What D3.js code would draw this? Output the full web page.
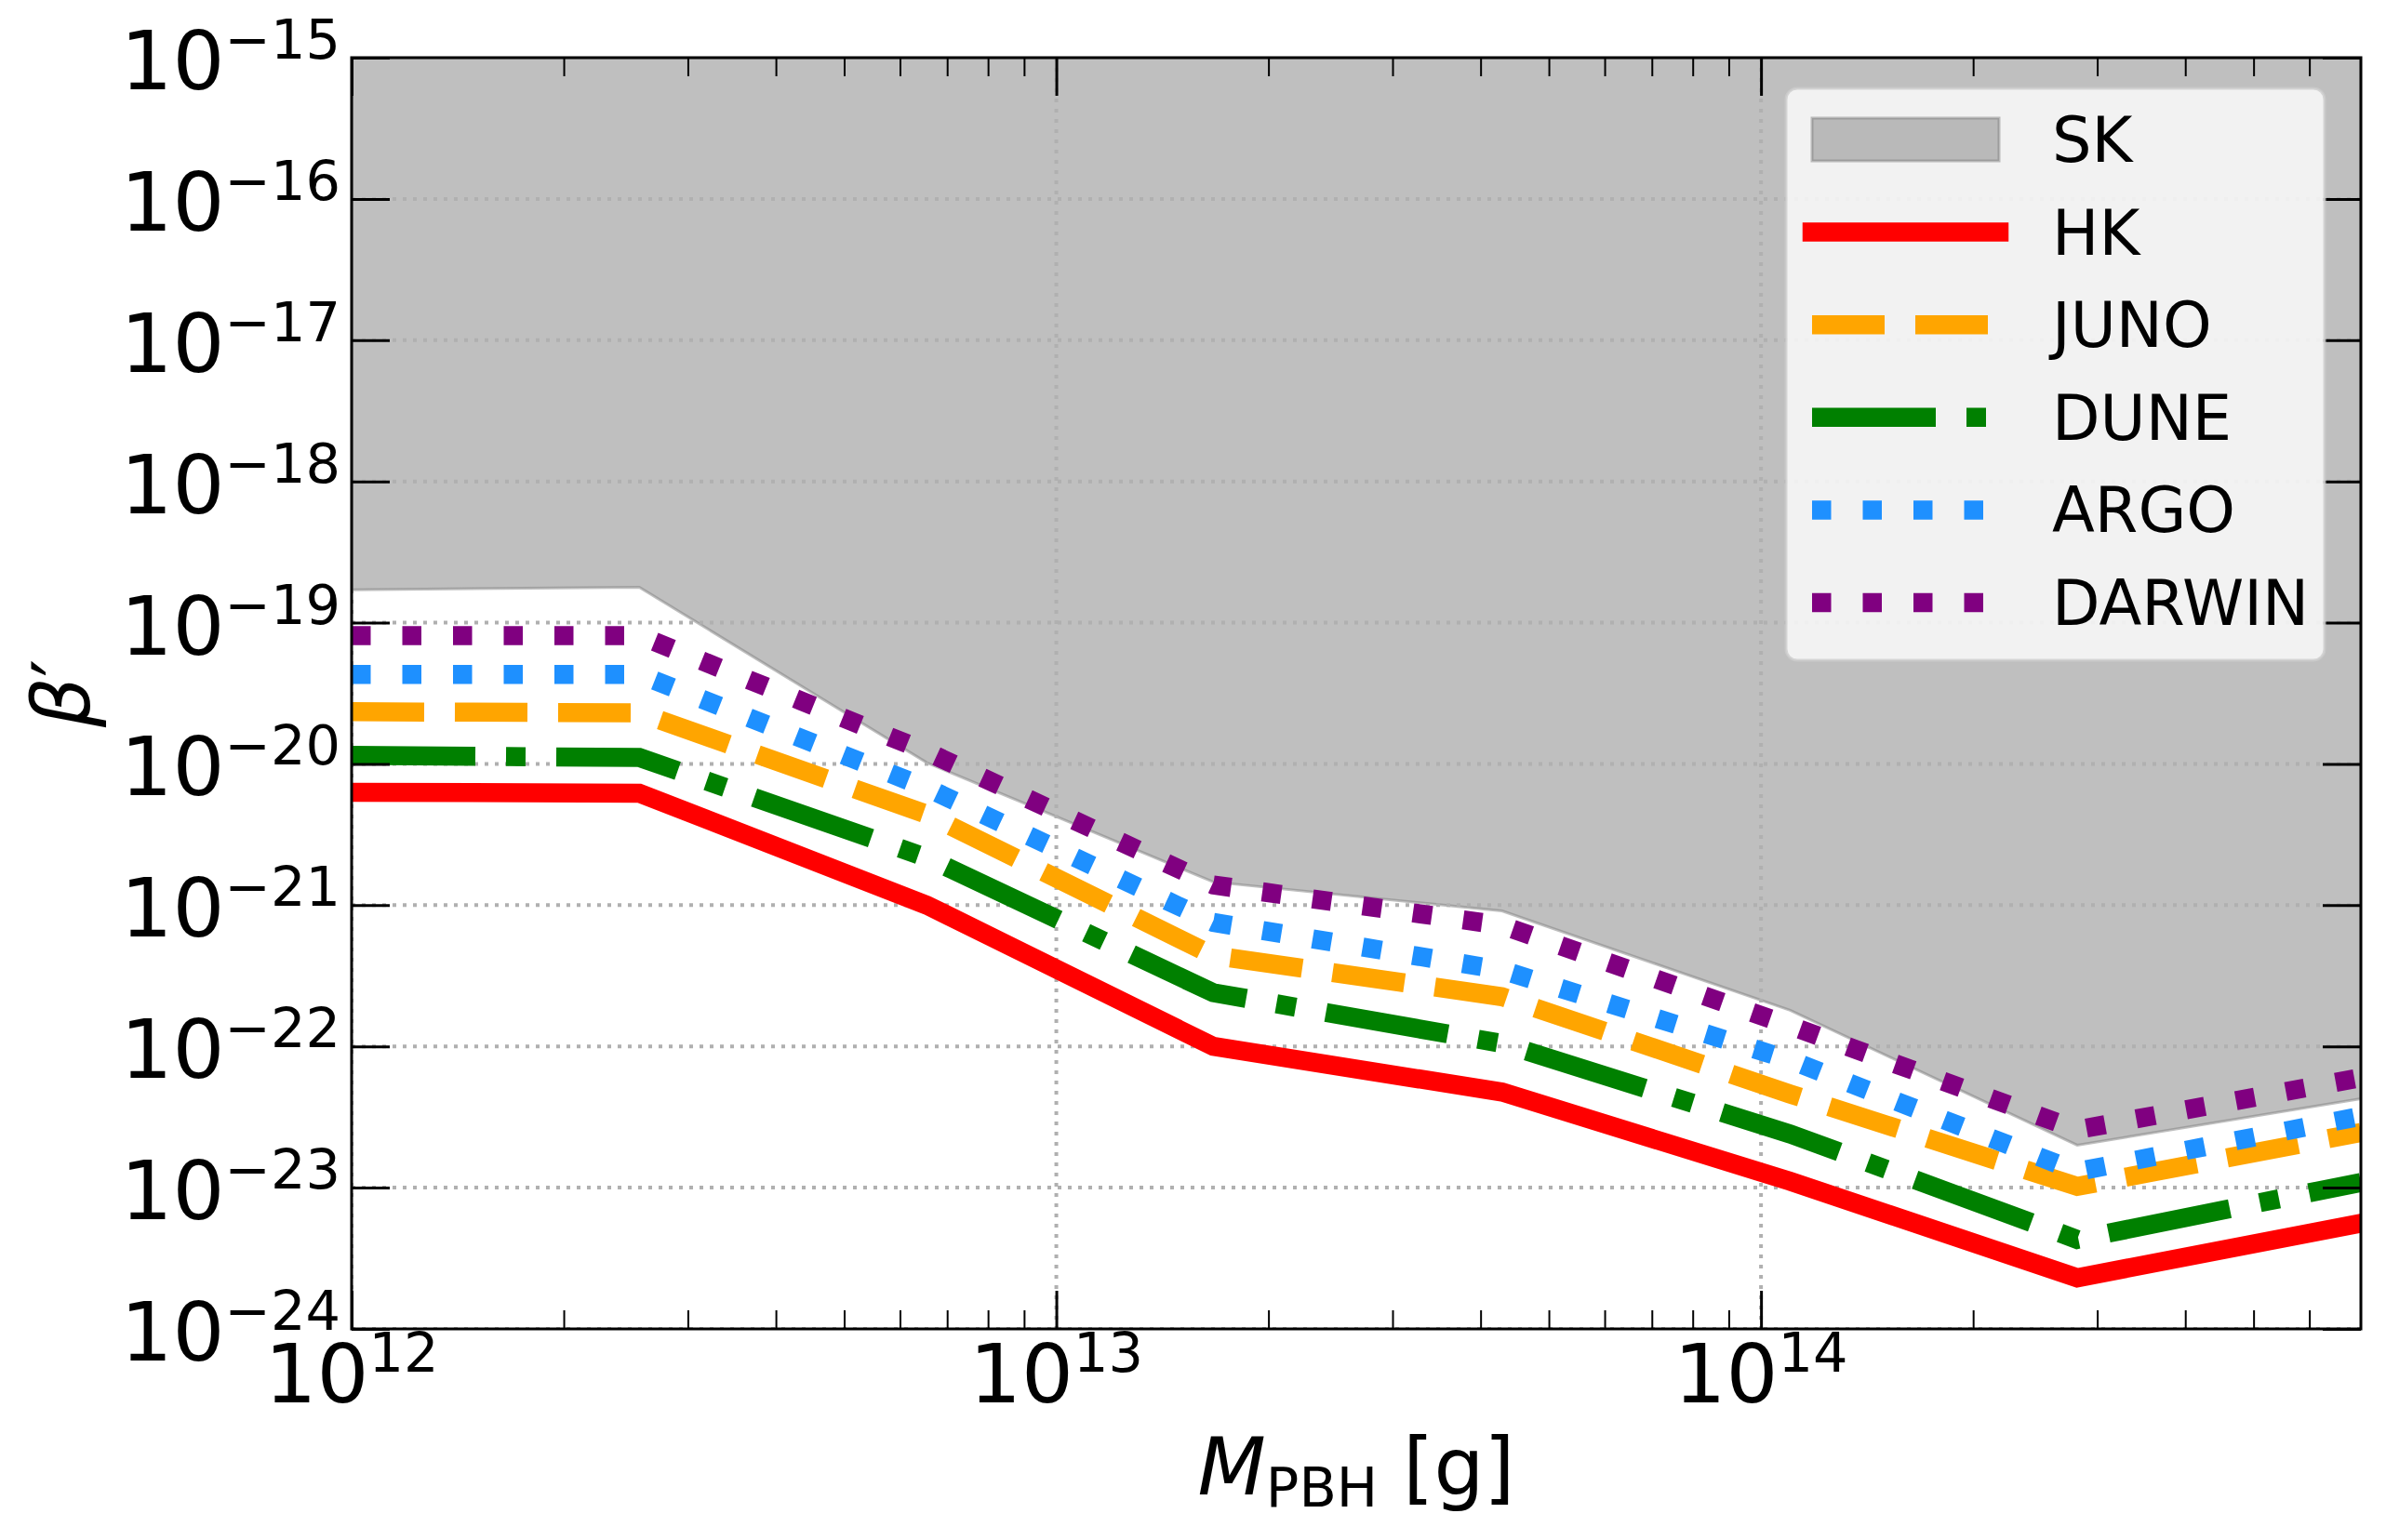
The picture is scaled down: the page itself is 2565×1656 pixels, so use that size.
<!DOCTYPE html>
<html>
<head>
<meta charset="utf-8">
<script src="https://cdn.jsdelivr.net/npm/d3@7"></script>
<style>
    body { margin: 0; background: #fff; }
    text { font-family: "DejaVu Sans", sans-serif; fill: #000; }
</style>
</head>
<body>
<div id="chart"></div>
<script>
// PBH mass grid [g] and the bounds on beta'
var massValues = [1e12, 2.56e12, 6.55e12, 1.67e13, 4.29e13, 1.1e14, 2.81e14, 7.1e14];
var skValues = [1.71e-19, 1.78e-19, 1.02e-20, 1.46e-21, 9.1e-22, 1.8e-22, 2.0e-23, 4.26e-23];
var hkValues = [6.3e-21, 6.2e-21, 1.0e-21, 1.0e-22, 4.75e-23, 1.11e-23, 2.3e-24, 5.6e-24];
var junoValues = [2.34e-20, 2.3e-20, 4.4e-21, 4.4e-22, 2.25e-22, 4.6e-23, 1.02e-23, 2.46e-23];
var duneValues = [1.15e-20, 1.11e-20, 2.17e-21, 2.4e-22, 1.05e-22, 2.4e-23, 4.3e-24, 1.09e-23];
var argoValues = [4.3e-20, 4.3e-20, 6.76e-21, 7.55e-22, 3.47e-22, 8.0e-23, 1.3e-23, 3.2e-23];
var darwinValues = [8.1e-20, 8.1e-20, 1.22e-20, 1.39e-21, 7.2e-22, 1.4e-22, 2.57e-23, 6.0e-23];

var seriesNames = ["HK", "JUNO", "DUNE", "ARGO", "DARWIN"];
var xTickExps = [12, 13, 14];
var yTickExps = [-15, -16, -17, -18, -19, -20, -21, -22, -23, -24];

var cfg = {
    w: 2565,
    h: 1656,
    left: 378, right: 2538, top: 62, bottom: 1429,
    lineWidth: 20.5,
    tickFont: 88,
    supFont: 59,
    legendFont: 67
};

var styles = [
    { color: "#ff0000", dash: null, cap: "square" },
    { color: "#ffa500", dash: "78,33", cap: "butt" },
    { color: "#008000", dash: "133,33,21,33", cap: "butt" },
    { color: "#1e90ff", dash: "20.5,34", cap: "butt" },
    { color: "#800080", dash: "20.5,34", cap: "butt" }
];

var allSeries = [hkValues, junoValues, duneValues, argoValues, darwinValues].map(function (vals) {
    return vals.map(function (v, i) { return { m: massValues[i], v: v }; });
});
var skData = skValues.map(function (v, i) { return { m: massValues[i], v: v }; });

var x = d3.scaleLog().domain([massValues[0], massValues[massValues.length - 1]]).range([cfg.left, cfg.right]);
var y = d3.scaleLog().domain([1e-24, 1e-15]).range([cfg.bottom, cfg.top]);

var svg = d3.select("#chart").append("svg")
    .attr("width", cfg.w)
    .attr("height", cfg.h);

svg.append("defs").append("clipPath").attr("id", "plotClip")
    .append("rect")
    .attr("x", cfg.left).attr("y", cfg.top)
    .attr("width", cfg.right - cfg.left).attr("height", cfg.bottom - cfg.top);

var plot = svg.append("g").attr("clip-path", "url(#plotClip)");

// SK excluded region
var skArea = d3.area()
    .x(function (d) { return x(d.m); })
    .y0(y(1e-15))
    .y1(function (d) { return y(d.v); });

plot.append("path")
    .datum(skData)
    .attr("d", skArea)
    .style("fill", "#808080")
    .style("fill-opacity", 0.5)
    .style("stroke", "#808080")
    .style("stroke-opacity", 0.5)
    .style("stroke-width", 3);

// grid
var grid = plot.append("g").attr("class", "grid");
grid.selectAll(".gy")
    .data(yTickExps)
    .enter().append("line")
    .attr("x1", cfg.left).attr("x2", cfg.right)
    .attr("y1", function (d) { return y(Math.pow(10, d)); })
    .attr("y2", function (d) { return y(Math.pow(10, d)); })
    .style("stroke", "#b0b0b0")
    .style("stroke-width", 4)
    .style("stroke-dasharray", "4,7");
grid.selectAll(".gx")
    .data(xTickExps)
    .enter().append("line")
    .attr("y1", cfg.top).attr("y2", cfg.bottom)
    .attr("x1", function (d) { return x(Math.pow(10, d)); })
    .attr("x2", function (d) { return x(Math.pow(10, d)); })
    .style("stroke", "#b0b0b0")
    .style("stroke-width", 4)
    .style("stroke-dasharray", "4,7");

var line = d3.line()
    .x(function (d) { return x(d.m); })
    .y(function (d) { return y(d.v); });

plot.selectAll(".series")
    .data(allSeries)
    .enter().append("path")
    .attr("class", "series")
    .attr("d", line)
    .style("fill", "none")
    .style("stroke", function (d, i) { return styles[i].color; })
    .style("stroke-width", cfg.lineWidth)
    .style("stroke-dasharray", function (d, i) { return styles[i].dash; })
    .style("stroke-linecap", function (d, i) { return styles[i].cap; })
    .style("stroke-linejoin", "miter");

// ticks (inward, all four sides)
var xMajor = xTickExps.map(function (e) { return Math.pow(10, e); });
var xMinor = [];
xTickExps.forEach(function (e) {
    for (var k = 2; k <= 9; k++) {
        var v = k * Math.pow(10, e);
        if (x(v) < cfg.right - 6) xMinor.push(v);
    }
});
var yMajor = yTickExps.map(function (e) { return Math.pow(10, e); });

function styleTicks(g, width) {
    g.select(".domain").remove();
    g.selectAll(".tick line").style("stroke", "#000").style("stroke-width", width);
    g.selectAll(".tick text").remove();
}

svg.append("g").attr("transform", "translate(0," + cfg.bottom + ")")
    .call(d3.axisBottom(x).tickValues(xMajor).tickSize(-41)).call(styleTicks, 3);
svg.append("g").attr("transform", "translate(0," + cfg.bottom + ")")
    .call(d3.axisBottom(x).tickValues(xMinor).tickSize(-20)).call(styleTicks, 2);
svg.append("g").attr("transform", "translate(0," + cfg.top + ")")
    .call(d3.axisTop(x).tickValues(xMajor).tickSize(-41)).call(styleTicks, 3);
svg.append("g").attr("transform", "translate(0," + cfg.top + ")")
    .call(d3.axisTop(x).tickValues(xMinor).tickSize(-20)).call(styleTicks, 2);
svg.append("g").attr("transform", "translate(" + cfg.left + ",0)")
    .call(d3.axisLeft(y).tickValues(yMajor).tickSize(-41)).call(styleTicks, 3);
svg.append("g").attr("transform", "translate(" + cfg.right + ",0)")
    .call(d3.axisRight(y).tickValues(yMajor).tickSize(-41)).call(styleTicks, 3);

// spines
svg.append("rect")
    .attr("x", cfg.left).attr("y", cfg.top)
    .attr("width", cfg.right - cfg.left).attr("height", cfg.bottom - cfg.top)
    .style("fill", "none")
    .style("stroke", "#000")
    .style("stroke-width", 3);

// tick labels 10^n
var yLabels = svg.selectAll(".ylab")
    .data(yTickExps)
    .enter().append("text")
    .attr("class", "ylab")
    .attr("x", cfg.left - 12)
    .attr("y", function (d) { return y(Math.pow(10, d)) + 34; })
    .attr("text-anchor", "end");
yLabels.append("tspan").style("font-size", cfg.tickFont + "px").text("10");
yLabels.append("tspan").style("font-size", cfg.supFont + "px").attr("dy", -33)
    .text(function (d) { return "\u2212" + Math.abs(d); });

var xLabels = svg.selectAll(".xlab")
    .data(xTickExps)
    .enter().append("text")
    .attr("class", "xlab")
    .attr("x", function (d) { return x(Math.pow(10, d)); })
    .attr("y", 1508)
    .attr("text-anchor", "middle");
xLabels.append("tspan").style("font-size", cfg.tickFont + "px").text("10");
xLabels.append("tspan").style("font-size", cfg.supFont + "px").attr("dy", -33)
    .text(function (d) { return d; });

// axis titles
var xTitle = svg.append("text")
    .attr("x", (cfg.left + cfg.right) / 2)
    .attr("y", 1607)
    .attr("text-anchor", "middle")
    .style("font-size", "85px");
xTitle.append("tspan").style("font-style", "italic").text("M");
xTitle.append("tspan").style("font-size", "59px").attr("dy", 13).text("PBH");
xTitle.append("tspan").attr("dy", -13).text(" [g]");

var yTitle = svg.append("text")
    .attr("transform", "translate(96," + (cfg.top + cfg.bottom) / 2 + ") rotate(-90)")
    .attr("text-anchor", "middle")
    .style("font-size", "85px");
yTitle.append("tspan").style("font-style", "italic").text("\u03b2");
yTitle.append("tspan").text("\u2032");

// legend
var legend = svg.append("g").attr("class", "legend");
legend.append("rect")
    .attr("x", 1920).attr("y", 95)
    .attr("width", 579).attr("height", 615)
    .attr("rx", 12)
    .style("fill", "#fff")
    .style("fill-opacity", 0.8)
    .style("stroke", "#cccccc")
    .style("stroke-opacity", 0.8)
    .style("stroke-width", 3);

var legendNames = ["SK"].concat(seriesNames);
var rowY = function (i) { return 150 + i * 99.6; };
var hx0 = 1948, hx1 = 2149;

legend.append("rect")
    .attr("x", hx0).attr("y", rowY(0) - 23)
    .attr("width", hx1 - hx0).attr("height", 46)
    .style("fill", "#808080")
    .style("fill-opacity", 0.5)
    .style("stroke", "#808080")
    .style("stroke-opacity", 0.5)
    .style("stroke-width", 3);

legend.selectAll(".handle")
    .data(styles)
    .enter().append("line")
    .attr("class", "handle")
    .attr("x1", hx0).attr("x2", hx1)
    .attr("y1", function (d, i) { return rowY(i + 1); })
    .attr("y2", function (d, i) { return rowY(i + 1); })
    .style("stroke", function (d) { return d.color; })
    .style("stroke-width", cfg.lineWidth)
    .style("stroke-dasharray", function (d) { return d.dash; })
    .style("stroke-linecap", function (d) { return d.cap; });

legend.selectAll(".label")
    .data(legendNames)
    .enter().append("text")
    .attr("class", "label")
    .attr("x", 2206)
    .attr("y", function (d, i) { return rowY(i) + 24; })
    .style("font-size", cfg.legendFont + "px")
    .text(function (d) { return d; });
</script>
</body>
</html>
